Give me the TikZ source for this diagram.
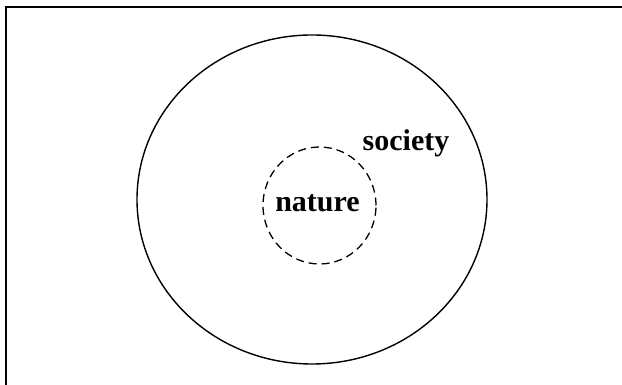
\documentclass[tikz,border=0pt]{standalone}
\usepackage{fontspec}
\setmainfont{Liberation Serif}

\begin{document}
\begin{tikzpicture}[x=1pt, y=1pt, line width=1.4pt,
        lbl/.style={font=\fontsize{30}{33}\selectfont\bfseries, inner sep=0pt, anchor=base}]

    \useasboundingbox (0,0) rectangle (622,385);

    % --- ramka (lewa i górna krawędź) ---
    \draw[line width=2pt] (5.5,0) -- (5.5,378) -- (622,378);

    % --- społeczeństwo i natura ---
    \draw (312,185.5) ellipse [x radius=175, y radius=164.5];
    \draw[dashed, dash pattern=on 8pt off 5pt, line width=1.3pt] (319.5,179.5) ellipse [x radius=56.5, y radius=58.5];

    % --- opisy ---
    \node[lbl] (society) at (406,234) {society};
    \node[lbl] (nature) at (317.5,173) {nature};

\end{tikzpicture}
\end{document}
